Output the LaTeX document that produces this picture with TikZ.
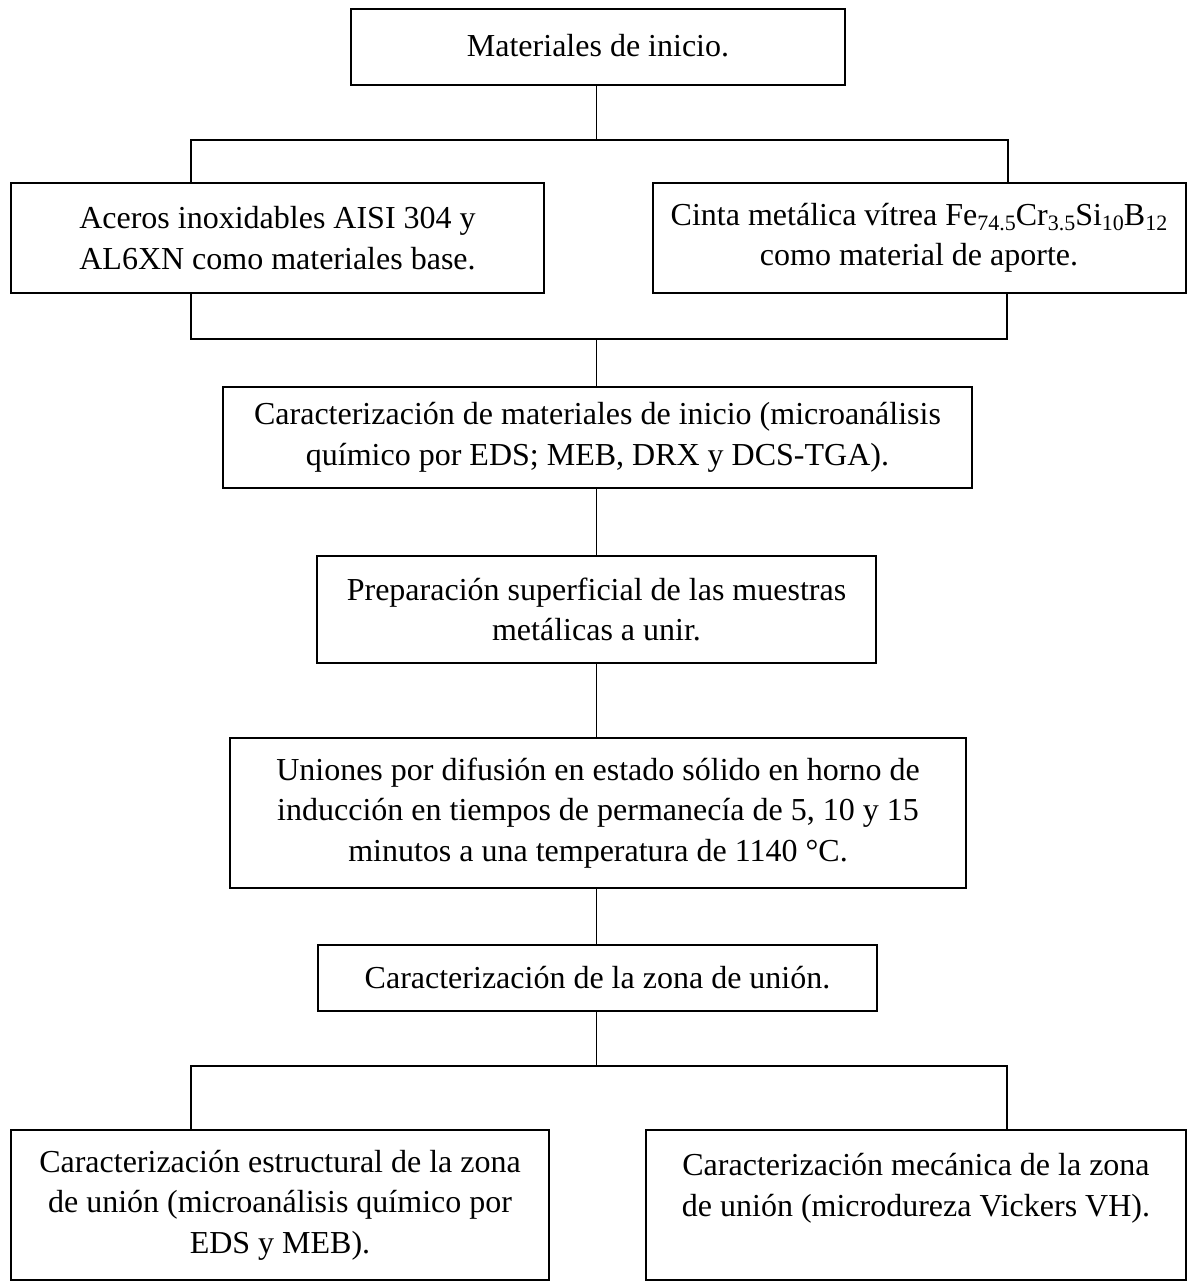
\documentclass[tikz,border=0pt]{standalone}
\usepackage{fontspec}
\setmainfont{Liberation Serif}
\usepackage{tikz}
\usetikzlibrary{positioning,calc}

\newcommand{\sbs}[1]{\raisebox{-0.35ex}{\fontsize{11pt}{11pt}\selectfont #1}}

\tikzset{
  stage/.style={draw, line width=1pt, inner sep=0pt, align=center,
    font=\fontsize{16pt}{20.25pt}\selectfont},
  link/.style={line width=0.6pt}
}

\begin{document}
\begin{tikzpicture}[x=0.5pt, y=-0.5pt]
    \useasboundingbox (0,0) rectangle (1187,1282);

    \node (inicio) [stage, minimum width=247pt, minimum height=38pt] at (598,47) {\raisebox{2pt}{Materiales de inicio.}};
    \node (aceros) [stage, minimum width=266.5pt, minimum height=55pt] at (277.5,238) {Aceros inoxidables AISI 304 y\\AL6XN como materiales base.};
    \node (cinta) [stage, minimum width=266.5pt, minimum height=55pt] at (919,238) {Cinta metálica vítrea Fe\sbs{74.5}Cr\sbs{3.5}Si\sbs{10}B\sbs{12}\\como material de aporte.};
    \node (caract) [stage, minimum width=374.5pt, minimum height=50.5pt] at (597.5,437.5) {Caracterización de materiales de inicio (microanálisis\\químico por EDS; MEB, DRX y DCS-TGA).};
    \node (prep) [stage, minimum width=279.5pt, minimum height=53.5pt] at (596.5,609.5) {Preparación superficial de las muestras\\metálicas a unir.};
    \node (uniones) [stage, minimum width=368pt, minimum height=75pt] at (598,813) {Uniones por difusión en estado sólido en horno de\\inducción en tiempos de permanecía de 5, 10 y 15\\minutos a una temperatura de 1140 °C.};
    \node (zona) [stage, minimum width=279.5pt, minimum height=33pt] at (597.5,978) {Caracterización de la zona de unión.};
    \node (estruct) [stage, minimum width=269pt, minimum height=75pt] at (280,1205) {Caracterización estructural de la zona\\de unión (microanálisis químico por\\EDS y MEB).};
    \node (mecan) [stage, minimum width=270pt, minimum height=75pt] at (916,1205) {Caracterización mecánica de la zona\\de unión (microdureza Vickers VH).\\\mbox{}};

    % branch points
    \coordinate (top) at (596.5,140);
    \coordinate (topL) at (191,140);
    \coordinate (topR) at (1008,140);
    \coordinate (mid) at (596.5,339);
    \coordinate (midL) at (191,339);
    \coordinate (midR) at (1007,339);
    \coordinate (low) at (596.5,1066);
    \coordinate (lowL) at (191,1066);
    \coordinate (lowR) at (1007,1066);

    \draw[link] (inicio.south -| top) -- (top);
    \draw[link] (aceros.north -| topL) -- (topL) -- (topR) -- (cinta.north -| topR);
    \draw[link] (aceros.south -| midL) -- (midL) -- (midR) -- (cinta.south -| midR);
    \draw[link] (mid) -- (caract.north -| mid);
    \draw[link] (caract.south -| mid) -- (prep.north -| mid);
    \draw[link] (prep.south -| mid) -- (uniones.north -| mid);
    \draw[link] (uniones.south -| mid) -- (zona.north -| mid);
    \draw[link] (zona.south -| low) -- (low);
    \draw[link] (estruct.north -| lowL) -- (lowL) -- (lowR) -- (mecan.north -| lowR);
\end{tikzpicture}
\end{document}
